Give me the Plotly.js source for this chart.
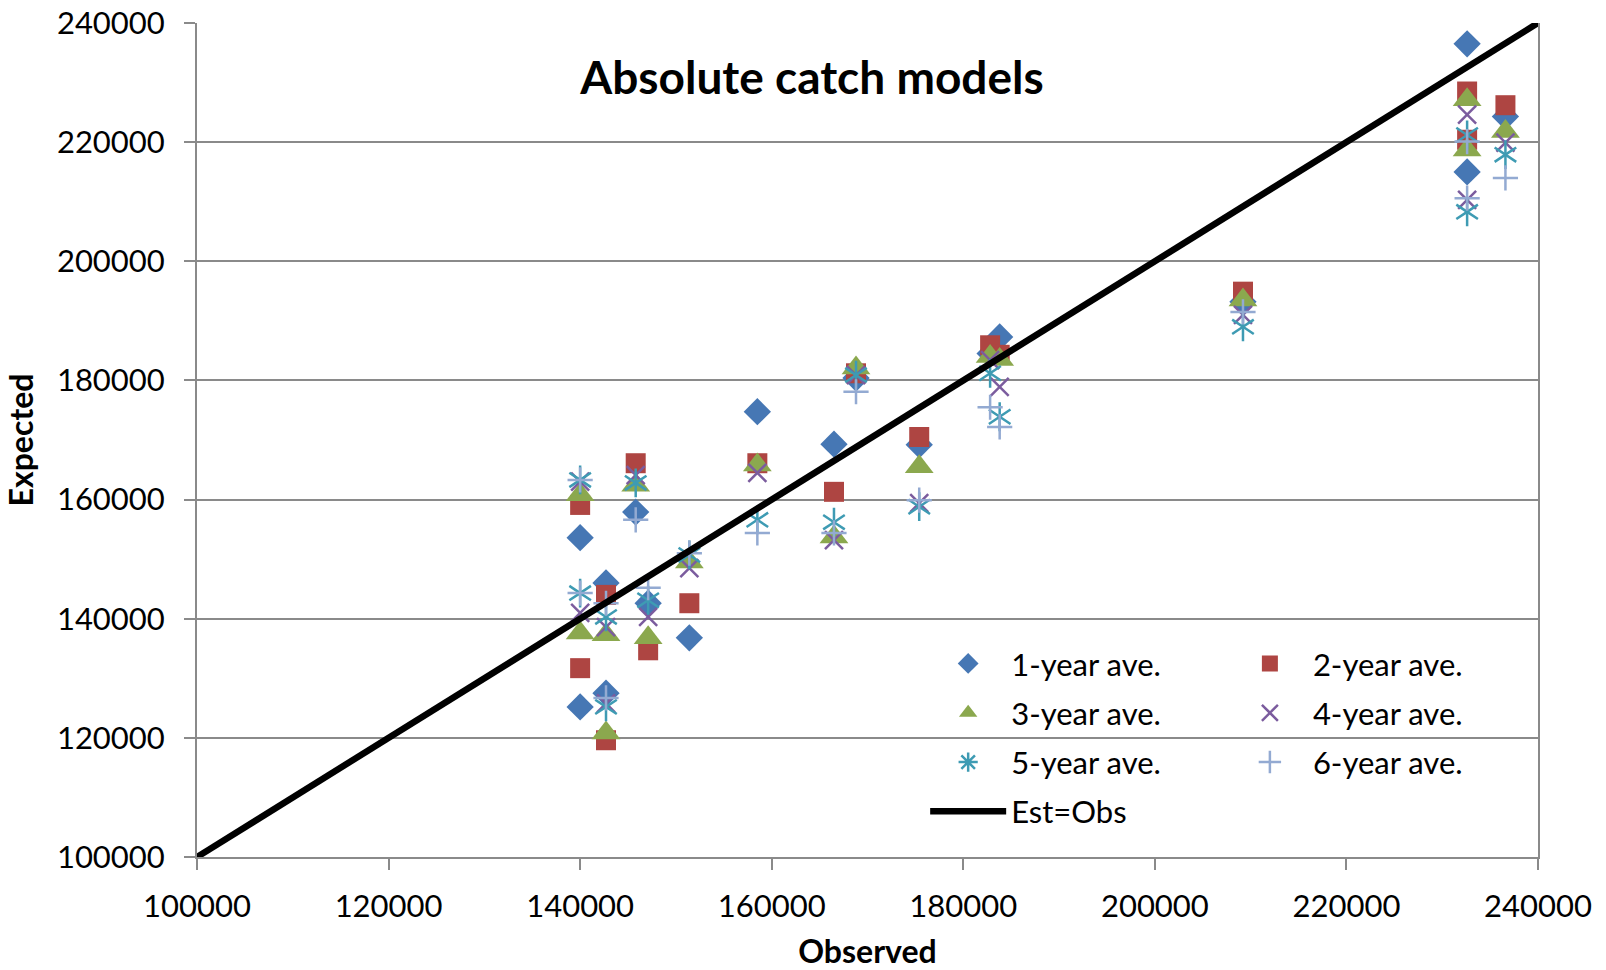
<!DOCTYPE html>
<html>
<head>
<meta charset="utf-8">
<script src="https://cdn.plot.ly/plotly-3.0.1.min.js"></script>
<style>
  html, body { margin: 0; padding: 0; background: #fff; }
  #chart { width: 1606px; height: 970px; }
</style>
</head>
<body>
<div id="chart"></div>
<script>
// Observed catch and expected catch from the six averaging models
const observed = [140000, 140000, 142700, 142700, 145800, 147100, 151400, 158500, 166500,
                  168800, 175400, 182800, 183800, 209200, 232600, 232600, 236600];
const ave1 = [153600, 125200, 146000, 127500, 157900, 142600, 136800, 174750, 169300,
              180400, 169200, 184500, 187300, 193200, 236500, 215000, 224300];
const ave2 = [159100, 131700, 144000, 119600, 166100, 134700, 142600, 166100, 161300,
              181200, 170500, 185900, 184300, 194900, 228500, 220400, 226200];
const ave3 = [160800, 137600, 137300, 120800, 162400, 136800, 149500, 165800, 153700,
              182100, 165500, 184000, 183500, 193500, 227100, 218700, 221800];
const ave4 = [163000, 141000, 138600, 125800, 164100, 140300, 148500, 164500, 153200,
              180900, 159400, 183400, 178900, 191000, 224600, 210300, 219900];
const ave5 = [163300, 144300, 140300, 125200, 162800, 143100, 150700, 156600, 156200,
              180900, 158800, 181200, 173900, 189000, 221200, 208300, 217900];
const ave6 = [163300, 144300, 142600, 126700, 156600, 145200, 151000, 154400, 154400,
              178100, 159900, 175500, 172200, 191500, 220100, 210600, 214000];
const identityLine = [100000, 240000];

const FONT = 'Lato, "Open Sans", sans-serif';
const GRID = '#8a8a8a';

function markerTrace(name, y, symbol, size, color, legend, open) {
  return {
    x: observed, y: y, name: name, type: 'scatter', mode: 'markers', legend: legend,
    legendgroup: name,
    marker: open
      ? { symbol: symbol, size: size, color: color, line: { color: color, width: 2.5 } }
      : { symbol: symbol, size: size, color: color, line: { width: 0 } },
    hoverinfo: 'x+y+name',
  };
}

// the 5-year star is drawn as two marker layers (upper + lower half);
// its legend key is a star-symbol copy of the series whose points are hidden in the plot
const star5Key = markerTrace('5-year ave.', ave5, 'asterisk-open', 18, '#3E9BB3', 'legend', true);
star5Key.selectedpoints = [];
star5Key.unselected = { marker: { opacity: 0 } };
star5Key.hoverinfo = 'skip';
const star5a = markerTrace('5-year ave.', ave5, 'y-up-open', 18, '#3E9BB3', 'legend', true);
const star5b = markerTrace('5-year ave.', ave5, 'y-down-open', 18, '#3E9BB3', 'legend', true);
star5a.showlegend = false;
star5b.showlegend = false;

const traces = [
  markerTrace('1-year ave.', ave1, 'diamond', 21, '#4677B4', 'legend', false),
  markerTrace('2-year ave.', ave2, 'square', 20, '#AE4542', 'legend2', false),
  markerTrace('3-year ave.', ave3, 'triangle-up', 25, '#8BA84E', 'legend', false),
  markerTrace('4-year ave.', ave4, 'x-thin-open', 18, '#7B5C9E', 'legend2', true),
  star5Key,
  star5a,
  star5b,
  markerTrace('6-year ave.', ave6, 'cross-thin-open', 18, '#93AAD2', 'legend2', true),
  {
    x: identityLine, y: identityLine, name: 'Est=Obs', type: 'scatter', mode: 'lines',
    legend: 'legend', legendgroup: 'line',
    line: { color: '#000000', width: 6.5 },
    hoverinfo: 'skip',
  },
];

const axisCommon = {
  range: [100000, 240000],
  tick0: 100000,
  dtick: 20000,
  tickformat: 'd',
  ticks: 'outside',
  ticklen: 11,
  tickwidth: 2,
  tickcolor: GRID,
  ticklabelstandoff: 10,
  showline: true,
  linecolor: GRID,
  linewidth: 2,
  zeroline: false,
  tickfont: { family: FONT, size: 31, color: '#000' },
  fixedrange: true,
};

const legendCommon = {
  orientation: 'v',
  bgcolor: 'rgba(0,0,0,0)',
  borderwidth: 0,
  font: { family: FONT, size: 31, color: '#000' },
  tracegroupgap: 6,
  itemwidth: 76,
  xanchor: 'left',
  yanchor: 'top',
};

const layout = {
  width: 1606,
  height: 970,
  margin: { l: 197, r: 68, t: 23, b: 113 },
  paper_bgcolor: '#fff',
  plot_bgcolor: '#fff',
  font: { family: FONT, size: 31, color: '#000' },
  title: {
    text: 'Absolute catch models',
    font: { family: FONT, size: 46, weight: 700, color: '#000' },
    x: 0.5056, xanchor: 'center',
    y: 0.92, yanchor: 'middle',
  },
  xaxis: Object.assign({}, axisCommon, {
    showgrid: false,
    title: { text: 'Observed', font: { family: FONT, size: 32, weight: 700 }, standoff: 30 },
  }),
  yaxis: Object.assign({}, axisCommon, {
    showgrid: true,
    gridcolor: GRID,
    gridwidth: 2,
    mirror: true,
    ticklabelstandoff: 13,
    title: { text: 'Expected', font: { family: FONT, size: 32, weight: 700 }, standoff: 14 },
  }),
  legend: Object.assign({}, legendCommon, { x: 0.543, y: 0.264 }),
  legend2: Object.assign({}, legendCommon, { x: 0.768, y: 0.264 }),
  // white panel behind the legend, hiding the gridline there
  shapes: [{
    type: 'rect', xref: 'paper', yref: 'paper', layer: 'between',
    x0: 0.526, x1: 0.892, y0: 0.02, y1: 0.272,
    fillcolor: '#fff', line: { width: 0 },
  }],
  showlegend: true,
  hovermode: 'closest',
};

Plotly.newPlot('chart', traces, layout, { displayModeBar: false, responsive: false });
</script>
</body>
</html>
